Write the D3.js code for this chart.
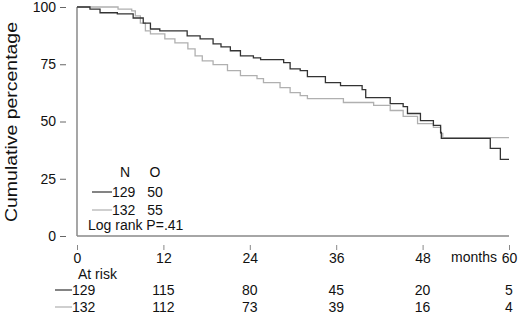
<!DOCTYPE html>
<html>
<head>
<meta charset="utf-8">
<script src="https://cdn.jsdelivr.net/npm/d3@7"></script>
<style>
  body { margin: 0; background: white; }
  text { font-family: "Liberation Sans", Arial, sans-serif; fill: #111; }
</style>
</head>
<body>
<div id="canvas"></div>
<script>
var width = 520;
var height = 314;

// survival steps [month, cumulative %], group N=129 (dark)
const groupA = [
    [0, 100], [1.8, 99.1], [3.2, 97.5], [5.6, 97], [7.8, 95.2], [9.2, 93],
    [10.2, 90.4], [11.5, 89.6], [15.3, 87.4], [17.1, 86.1], [18.9, 83.9],
    [20.0, 82.6], [21.3, 80.9], [22.7, 78.7], [24.5, 77.8], [25.5, 77],
    [28.7, 75.7], [29.6, 73], [31.0, 72.2], [32.0, 69.6], [34.5, 67],
    [36.6, 65.7], [39.6, 63.9], [40.1, 60.4], [43.5, 57.8], [45.3, 56.5],
    [45.9, 53.5], [47.7, 50.4], [49.5, 48.3], [50.5, 45.2], [50.6, 42.6],
    [57.4, 38.3], [58.8, 33.5], [60, 33.5]
];

// group N=132 (light)
const groupB = [
    [0, 100], [5.7, 99.1], [7.6, 98.3], [8.1, 96.1], [8.8, 93], [9.5, 89.6],
    [10.2, 88.3], [12.2, 86.1], [13.6, 84.3], [15.4, 81.7], [16.4, 78.7],
    [17.4, 76.5], [18.9, 74.8], [20.9, 72.2], [22.7, 70], [25.0, 68.7],
    [25.9, 67], [28.2, 64.8], [29.6, 62.6], [31.0, 61.3], [32.0, 60],
    [37.0, 58.3], [41.2, 57], [43.5, 54.8], [45.3, 52.2], [47.3, 49.1],
    [49.5, 47.4], [50.5, 44.8], [50.8, 43], [60, 43]
];

const xTicks = [0, 12, 24, 36, 48, 60];
const yTicks = [0, 25, 50, 75, 100];
const legendN = [129, 132];
const legendO = [50, 55];
const riskA = [129, 115, 80, 45, 20, 5];
const riskB = [132, 112, 73, 39, 16, 4];
const colors = ["#333333", "#b0b0b0"];

var svg = d3.select("#canvas").append("svg")
    .attr("width", width)
    .attr("height", height)
    .style("background-color", "white");

const xScale = d3.scaleLinear().domain([0, 60]).range([77, 509]);
const yScale = d3.scaleLinear().domain([0, 100]).range([236, 7]);

// axis frame lines
svg.append("line")
    .attr("x1", xScale(0)).attr("x2", xScale(0))
    .attr("y1", yScale(100)).attr("y2", yScale(0))
    .style("stroke", "#777").style("stroke-width", 1.3);
svg.append("line")
    .attr("x1", xScale(0)).attr("x2", xScale(60))
    .attr("y1", yScale(0)).attr("y2", yScale(0))
    .style("stroke", "#888").style("stroke-width", 1.3);

// y axis
const yAxis = svg.append("g")
    .attr("transform", "translate(66,0)")
    .call(d3.axisLeft(yScale).tickValues(yTicks).tickSize(6).tickPadding(4));
yAxis.select(".domain").remove();
yAxis.selectAll("line").style("stroke", "#666");
yAxis.selectAll("text").style("font-size", "14px").style("font-family", "Liberation Sans, Arial, sans-serif").attr("fill", "#111");

// x axis
const xAxis = svg.append("g")
    .attr("transform", "translate(0,245)")
    .call(d3.axisBottom(xScale).tickValues(xTicks).tickSize(5).tickPadding(3));
xAxis.select(".domain").remove();
xAxis.selectAll("line").style("stroke", "#888");
xAxis.selectAll("text").style("font-size", "14px").style("font-family", "Liberation Sans, Arial, sans-serif").attr("fill", "#111");

svg.append("text")
    .attr("x", 497).attr("y", 262)
    .attr("text-anchor", "end")
    .style("font-size", "14px")
    .text("months");

// y title
svg.append("text")
    .attr("transform", "translate(17,122) rotate(-90)")
    .attr("text-anchor", "middle")
    .attr("textLength", 200)
    .attr("lengthAdjust", "spacingAndGlyphs")
    .style("font-size", "16px")
    .text("Cumulative percentage");

// curves
const line = d3.line()
    .x(d => xScale(d[0]))
    .y(d => yScale(d[1]))
    .curve(d3.curveStepAfter);

svg.append("path")
    .datum(groupB)
    .attr("d", line)
    .style("fill", "none")
    .style("stroke", colors[1])
    .style("stroke-width", 1.3);

svg.append("path")
    .datum(groupA)
    .attr("d", line)
    .style("fill", "none")
    .style("stroke", colors[0])
    .style("stroke-width", 1.3);

// legend
svg.append("text").attr("x", 125).attr("y", 177).attr("text-anchor", "middle")
    .style("font-size", "14px").text("N");
svg.append("text").attr("x", 155).attr("y", 177).attr("text-anchor", "middle")
    .style("font-size", "14px").text("O");
const legendY = [197, 215];
legendN.forEach((n, i) => {
    svg.append("line")
        .attr("x1", 92).attr("x2", 112)
        .attr("y1", legendY[i] - 5).attr("y2", legendY[i] - 5)
        .style("stroke", colors[i]).style("stroke-width", 1.2);
    svg.append("text").attr("x", 112).attr("y", legendY[i])
        .style("font-size", "14px").text(n);
    svg.append("text").attr("x", 155).attr("y", legendY[i]).attr("text-anchor", "middle")
        .style("font-size", "14px").text(legendO[i]);
});
svg.append("text").attr("x", 88).attr("y", 230)
    .style("font-size", "14px").text("Log rank P=.41");

// at risk table
svg.append("text").attr("x", 78).attr("y", 279)
    .style("font-size", "14px").text("At risk");
const riskY = [295, 312];
[riskA, riskB].forEach((row, i) => {
    svg.append("line")
        .attr("x1", 55).attr("x2", 72)
        .attr("y1", riskY[i] - 5).attr("y2", riskY[i] - 5)
        .style("stroke", colors[i]).style("stroke-width", 1.2);
    svg.selectAll(".risk" + i)
        .data(row)
        .enter().append("text")
        .attr("class", "risk" + i)
        .attr("x", (d, j) => j === 0 ? 72 : xScale(xTicks[j]))
        .attr("y", riskY[i])
        .attr("text-anchor", (d, j) => j === 0 ? "start" : "middle")
        .style("font-size", "14px")
        .text(d => d);
});
</script>
</body>
</html>
